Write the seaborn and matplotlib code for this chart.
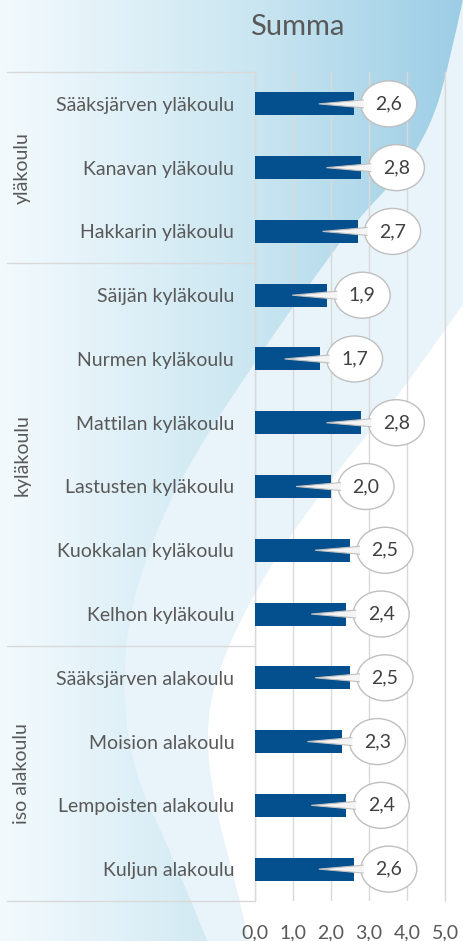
import numpy as np
import pandas as pd
import matplotlib
matplotlib.use("Agg")
import matplotlib.pyplot as plt
import seaborn as sns
from matplotlib.patches import Ellipse, Polygon, PathPatch
from matplotlib.path import Path
from matplotlib.colors import LinearSegmentedColormap

# data
groups = ["yläkoulu", "kyläkoulu", "iso alakoulu"]
group_sizes = [3, 6, 4]
schools = ["Sääksjärven yläkoulu", "Kanavan yläkoulu", "Hakkarin yläkoulu",
           "Säijän kyläkoulu", "Nurmen kyläkoulu", "Mattilan kyläkoulu",
           "Lastusten kyläkoulu", "Kuokkalan kyläkoulu", "Kelhon kyläkoulu",
           "Sääksjärven alakoulu", "Moision alakoulu", "Lempoisten alakoulu",
           "Kuljun alakoulu"]
values = [2.6, 2.8, 2.7, 1.9, 1.7, 2.8, 2.0, 2.5, 2.4, 2.5, 2.3, 2.4, 2.6]
xticks = [0, 1, 2, 3, 4, 5]
xtick_labels = ["0,0", "1,0", "2,0", "3,0", "4,0", "5,0"]
title = "Summa"

sns.set_style("white")
plt.rcParams["font.family"] = ["Lato", "DejaVu Sans"]

W, H = 463, 941
fig = plt.figure(figsize=(W / 100, H / 100), dpi=100)

# background swooshes (pixel coordinates)
bg = fig.add_axes([0, 0, 1, 1], zorder=0)
bg.set_xlim(0, W)
bg.set_ylim(H, 0)
bg.axis("off")


def smooth(pts, close):
    verts = [pts[0]]
    codes = [Path.MOVETO]
    for i in range(1, len(pts) - 1):
        mid = ((pts[i][0] + pts[i + 1][0]) / 2, (pts[i][1] + pts[i + 1][1]) / 2)
        verts += [pts[i], mid]
        codes += [Path.CURVE3, Path.CURVE3]
    verts.append(pts[-1])
    codes.append(Path.LINETO)
    for p in close:
        verts.append(p)
        codes.append(Path.LINETO)
    verts.append(pts[0])
    codes.append(Path.CLOSEPOLY)
    return Path(verts, codes)


curve_b = [(480, 280), (400, 395), (330, 480), (270, 565), (225, 650),
           (205, 720), (213, 800), (235, 880), (252, 955)]
bg.add_patch(PathPatch(smooth(curve_b, [(0, 955), (0, -10), (480, -10)]),
                       fc="#e8f4fa", ec="none"))

curve_a = [(465, -10), (448, 70), (430, 128), (400, 175), (355, 222),
           (320, 270), (280, 325), (240, 385), (200, 445), (160, 520),
           (132, 600), (122, 680), (132, 770), (170, 850), (213, 955)]
clip = PathPatch(smooth(curve_a, [(0, 955), (0, -10)]), fc="none", ec="none")
bg.add_patch(clip)
cmap = LinearSegmentedColormap.from_list(
    "bgblue", [(0, "#f3fafd"), (0.55, "#cae6f1"), (1, "#9ccde5")])
im = bg.imshow(np.linspace(0, 1, 256).reshape(1, -1), cmap=cmap,
               extent=(0, W, H, 0), aspect="auto", zorder=1)
im.set_clip_path(clip)

# main chart
ax = fig.add_axes([255 / W, 40 / H, 190 / W, 829 / H], zorder=2)
ax.patch.set_alpha(0)
df = pd.DataFrame({"school": schools, "value": values})
sns.barplot(data=df, x="value", y="school", color="#04508f", saturation=1,
            width=0.36, linewidth=0, ax=ax, zorder=3)
ax.set_xlim(0, 5)
ax.set_ylim(len(schools) - 0.5, -0.5)
ax.set_xlabel("")
ax.set_ylabel("")
ax.set_xticks(xticks)
ax.set_xticklabels(xtick_labels)
ax.grid(axis="x", color="#d9d9d9", lw=1)
ax.grid(axis="y", visible=False)
ax.set_axisbelow(True)
for s in ["top", "bottom"]:
    ax.spines[s].set_visible(False)
for s in ["left", "right"]:
    ax.spines[s].set_color("#d9d9d9")
    ax.spines[s].set_linewidth(1)
ax.tick_params(axis="y", length=0, pad=15, labelsize=14, labelcolor="#595959")
ax.tick_params(axis="x", length=0, pad=17, labelsize=14, labelcolor="#595959")

# group lines and labels
x_left = (7 - 255) / 190
x_grp = (22 - 255) / 190
bounds = [-0.5] + list(np.cumsum(group_sizes) - 0.5)
for b in bounds:
    ax.plot([x_left, 0], [b, b], transform=ax.get_yaxis_transform(),
            color="#d9d9d9", lw=1, clip_on=False)
for g, lo, hi in zip(groups, bounds[:-1], bounds[1:]):
    ax.text(x_grp, (lo + hi) / 2, g, transform=ax.get_yaxis_transform(),
            rotation=90, ha="center", va="center", fontsize=14, color="#595959")

# callout bubbles
px_x = 190 / 5
px_y = 829 / len(schools)
ew = 56 / px_x
eh = 46 / px_y
hh = 4 / px_y
for i, v in enumerate(values):
    cx = v + 35 / px_x
    ax.add_patch(Ellipse((cx, i), ew, eh, fc="white", ec="#bfbfbf", lw=1,
                         zorder=4))
    xb = cx - ew / 2 + 3 / px_x
    tip = v - 35 / px_x
    ax.add_patch(Polygon([(xb, i - hh), (tip, i), (xb, i + hh)], closed=False,
                         fc="#f4f4f4", ec="#c0c0c0", lw=0.8, zorder=5))
    ax.text(cx, i, f"{v:.1f}".replace(".", ","), ha="center", va="center",
            fontsize=14, color="#404040", zorder=6)

fig.text(297 / W, 1 - 35 / H, title, ha="center", va="baseline",
         fontsize=21, color="#595959")

fig.savefig("out.png", dpi=100)
